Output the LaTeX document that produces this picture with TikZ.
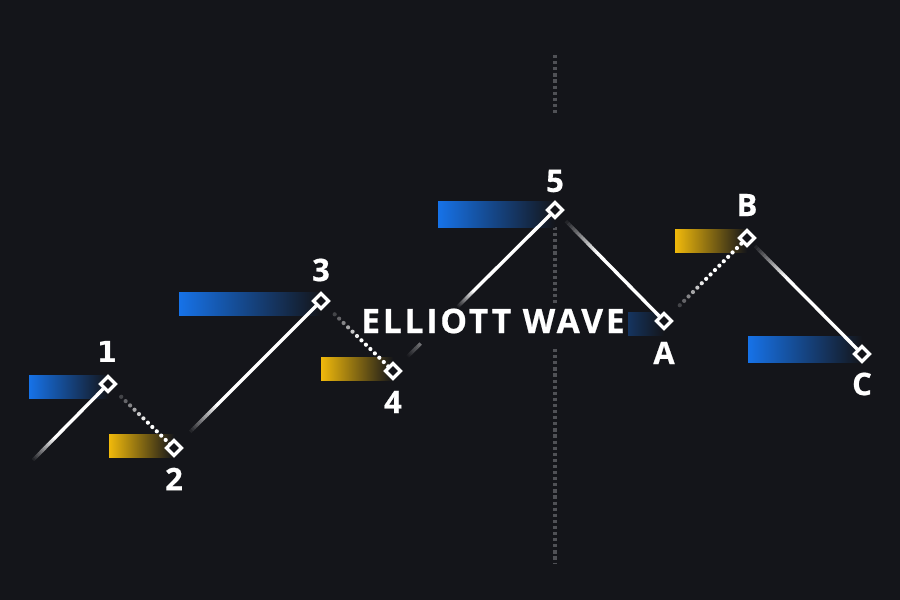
\documentclass[tikz,border=0pt]{standalone}
\usepackage{fontspec}
\setmainfont{Open Sans}
\newfontfamily\onefont{DejaVu Sans}
\newfontfamily\titlefont[LetterSpace=8.3]{Open Sans}
\usetikzlibrary{calc}
\definecolor{bgdark}{HTML}{14151A}
\definecolor{barblue}{HTML}{1672E8}
\definecolor{baryellow}{HTML}{F0B90B}
\definecolor{gridgray}{HTML}{505156}
\tikzset{
  pivot/.style={draw=white,fill=bgdark,line width=3.2pt,minimum size=10.5pt,inner sep=0pt,rotate=45},
  wavelabel/.style={text=white,font=\bfseries\addfontfeature{FakeBold=0.6}\fontsize{31}{31}\selectfont,inner sep=0pt},
  title/.style={text=white,font=\titlefont\bfseries\addfontfeature{FakeBold=0.6}\fontsize{33.6}{34}\selectfont,inner sep=0pt},
  leg/.style={white,line width=3.4pt},
  midline/.style={gridgray,line width=3.5pt,dash pattern=on 3.2pt off 2.9pt}
}
% fading start of a leg: from #3 to #4 along (#1)--(#2), up to #5 percent white
\newcommand{\fadeleg}[5]{
  \foreach \k in {0,...,14}{
    \pgfmathsetmacro{\mixval}{(\k+1)*#5/15}
    \pgfmathsetmacro{\ta}{#3+(#4-#3)*\k/15}
    \pgfmathsetmacro{\tb}{#3+(#4-#3)*(\k+1.1)/15}
    \draw[white!\mixval!bgdark,line width=3.4pt] ($(#1)!\ta!(#2)$) -- ($(#1)!\tb!(#2)$);
  }
}
% same for a dotted leg: dots from #3 to #4, #5 is the length of the leg
\newcommand{\fadedots}[5]{
  \foreach \k in {0,...,30}{
    \pgfmathsetmacro{\ta}{#3+\k*6.2/#5}
    \ifdim\ta pt<#4pt
      \pgfmathsetmacro{\mixval}{min(100,20+\k*14)}
      \fill[white!\mixval!bgdark] ($(#1)!\ta!(#2)$) circle (2.1);
    \fi
  }
}
\begin{document}
\begin{tikzpicture}[x=1pt,y=-1pt]
  \fill[bgdark] (0,0) rectangle (900,600);
  \useasboundingbox (0,0) rectangle (900,600);

  % time line
  \coordinate (topend) at (555,55);
  \coordinate (topgap) at (555,113);
  \coordinate (midstart) at (555,227);
  \coordinate (botend) at (555,563);
  \draw[midline] (topend) -- (topgap);
  \draw[midline] (midstart) -- (botend);

  % bars
  \shade[left color=barblue,right color=bgdark] (29,375) rectangle (108,398);
  \shade[left color=baryellow,right color=bgdark] (109,434) rectangle (174,457);
  \shade[left color=barblue,right color=bgdark] (179,292) rectangle (321,315);
  \shade[left color=baryellow,right color=bgdark] (321,357) rectangle (393,380);
  \shade[left color=barblue,right color=bgdark] (438,201) rectangle (555,227);
  \shade[left color=barblue!60!bgdark,right color=bgdark] (600,312) rectangle (664,335);
  \shade[left color=baryellow,right color=bgdark] (675,229) rectangle (747,252);
  \shade[left color=barblue,right color=bgdark] (748,336) rectangle (862,362);

  % pivots
  \coordinate (start) at (33,460);
  \node[pivot] (p1) at (108,384) {};
  \node[pivot] (p2) at (174,448) {};
  \node[pivot] (p3) at (321,301) {};
  \node[pivot] (p4) at (393,371) {};
  \node[pivot] (p5) at (555,210) {};
  \node[pivot] (pA) at (664,321) {};
  \node[pivot] (pB) at (747,238) {};
  \node[pivot] (pC) at (862,354) {};

  % dark patch under the title
  \fill[bgdark] (356,305) rectangle (628,336);
  \fill[bgdark] (374,336) rectangle (628,347);

  % legs
  \fadeleg{start}{p1}{0}{0.3}{100}
  \draw[leg] ($(start)!0.3!(p1)$) -- (p1);
  \fadedots{p1}{p2}{0.2}{0.95}{92}
  \fadeleg{p2}{p3}{0.11}{0.3}{100}
  \draw[leg] ($(p2)!0.3!(p3)$) -- (p3);
  \fadedots{p3}{p4}{0.19}{0.95}{100}
  \fadeleg{p4}{p5}{0.09}{0.17}{40}
  \fadeleg{p4}{p5}{0.4}{0.5}{100}
  \draw[leg] ($(p4)!0.5!(p5)$) -- (p5);
  \fadeleg{p5}{pA}{0.1}{0.4}{100}
  \draw[leg] ($(p5)!0.4!(pA)$) -- (pA);
  \fadedots{pA}{pB}{0.19}{0.95}{117}
  \fadeleg{pB}{pC}{0.07}{0.35}{100}
  \draw[leg] ($(pB)!0.35!(pC)$) -- (pC);

  % pivots once more, over the legs
  \foreach \p in {p1,p2,p3,p4,p5,pA,pB,pC}
    \node[pivot] at (\p) {};

  \node[title] (title) at (493,321) {ELLIOTT WAVE};

  \node[wavelabel,font=\onefont\bfseries\fontsize{29}{30}\selectfont] (l1) at (107,352) {1};
  \node[wavelabel] (l2) at (174,479) {2};
  \node[wavelabel] (l3) at (321,270) {3};
  \node[wavelabel] (l4) at (393,402) {4};
  \node[wavelabel] (l5) at (555,181) {5};
  \node[wavelabel] (lA) at (664,353) {A};
  \node[wavelabel] (lB) at (747,205) {B};
  \node[wavelabel] (lC) at (862,384) {C};
\end{tikzpicture}
\end{document}
